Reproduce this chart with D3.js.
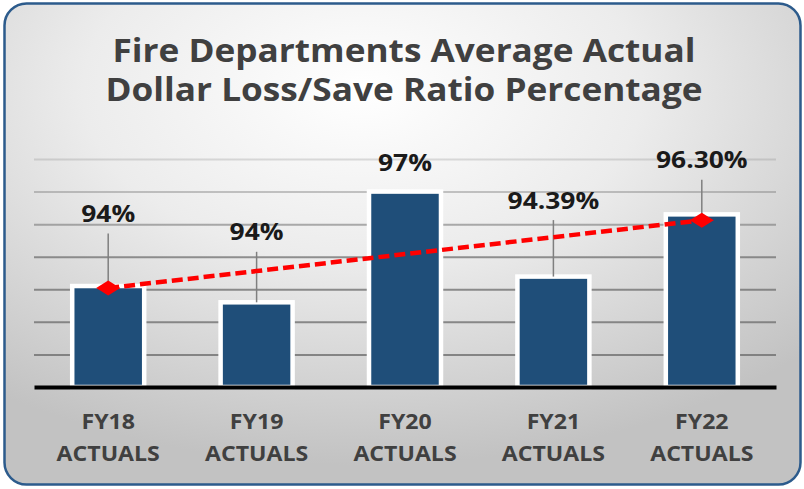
<!DOCTYPE html>
<html>
<head>
<meta charset="utf-8">
<title>Fire Departments Average Actual Dollar Loss/Save Ratio Percentage</title>
<script src="https://cdn.jsdelivr.net/npm/d3@7"></script>
<style>
  html, body { margin: 0; padding: 0; background: #fff; }
  svg { display: block; }
  svg text { font-family: "Open Sans", "Noto Sans", sans-serif; font-weight: 700; }
</style>
</head>
<body>
<script>
// data
var titleLines = ["Fire Departments Average Actual", "Dollar Loss/Save Ratio Percentage"];
var categories = ["FY18 ACTUALS", "FY19 ACTUALS", "FY20 ACTUALS", "FY21 ACTUALS", "FY22 ACTUALS"];
var values = [94.1, 93.6, 97.0, 94.39, 96.30];
var valueLabels = ["94%", "94%", "97%", "94.39%", "96.30%"];
var trendCategories = ["FY18 ACTUALS", "FY22 ACTUALS"];
var trendValues = [94.04, 96.12];
var gridTicks = [92, 93, 94, 95, 96, 97, 98];

// layout
var width = 804, height = 489,
    plotLeft = 34, plotRight = 776, plotTop = 159, plotBottom = 387;
// how far each value label sits above its bar (labels were dragged by hand)
var labelLift = [64, 62, 21, 68, 46];
// the source picture is a bit stretched sideways
var stretch = 1.1;

var x = d3.scaleBand().domain(categories).range([plotLeft, plotRight])
    .paddingInner(0.515).paddingOuter(0.2575);
var y = d3.scaleLinear().domain([91, 98]).range([plotBottom, plotTop]);
var cx = function(c) { return x(c) + x.bandwidth() / 2; };
// gridlines fade out towards the top
var gridFade = d3.scaleLinear().domain([92, 95, 96, 98]).range([0.8, 0.75, 0.55, 0.22]);

var svg = d3.select("body").append("svg")
    .attr("width", width).attr("height", height);

var defs = svg.append("defs");
var grad = defs.append("radialGradient").attr("id", "bg")
    .attr("cx", "45%").attr("cy", "18%").attr("r", "78%");
grad.append("stop").attr("offset", "0%").attr("stop-color", "#ffffff");
grad.append("stop").attr("offset", "45%").attr("stop-color", "#ececec");
grad.append("stop").attr("offset", "100%").attr("stop-color", "#c2c2c2");

svg.append("rect")
    .attr("x", 4.5).attr("y", 3.5)
    .attr("width", 796).attr("height", 481)
    .attr("rx", 22)
    .attr("fill", "url(#bg)")
    .attr("stroke", "#2c5b8c")
    .attr("stroke-width", 2.5);

// title
svg.append("g").selectAll("text")
    .data(titleLines)
  .enter().append("text")
    .attr("class", "stretch")
    .attr("x", 404)
    .attr("y", function(d, i) { return 62 + i * 39; })
    .attr("text-anchor", "middle")
    .attr("font-size", 32)
    .attr("fill", "#404040")
    .text(function(d) { return d; });

// gridlines
var grid = svg.append("g")
    .attr("transform", "translate(" + plotLeft + ",0)")
    .call(d3.axisLeft(y).tickValues(gridTicks).tickSize(-(plotRight - plotLeft)).tickFormat(""));
grid.select(".domain").remove();
grid.selectAll(".tick line")
    .attr("stroke", "#6f6f6f")
    .attr("stroke-opacity", function(d) { return gridFade(d); })
    .attr("stroke-width", 2);

// bars
svg.append("g").selectAll("rect")
    .data(values)
  .enter().append("rect")
    .attr("x", function(d, i) { return x(categories[i]); })
    .attr("y", function(d) { return y(d); })
    .attr("width", x.bandwidth())
    .attr("height", function(d) { return y(91) - y(d); })
    .attr("fill", "#1f4e79")
    .attr("stroke", "#ffffff")
    .attr("stroke-width", 4.5);

// category axis (the black base line)
var xAxis = svg.append("g")
    .attr("transform", "translate(0," + plotBottom + ")")
    .call(d3.axisBottom(x).tickSize(0).tickSizeOuter(0));
xAxis.select(".domain")
    .attr("stroke", "#000")
    .attr("stroke-width", 4);
xAxis.selectAll(".tick text").remove();
xAxis.selectAll(".tick").append("text")
    .attr("text-anchor", "middle")
    .attr("font-size", 21)
    .attr("fill", "#404040")
    .each(function(d) {
        var t = d3.select(this);
        d.split(" ").forEach(function(p, i) {
            t.append("tspan").attr("class", "stretch")
                .attr("x", 0).attr("y", 42 + i * 32).text(p);
        });
    });

// leader lines from value labels down to the bars
var leaders = d3.range(values.length).filter(function(i) { return labelLift[i] > 30; });
svg.append("g").selectAll("line")
    .data(leaders)
  .enter().append("line")
    .attr("x1", function(i) { return cx(categories[i]); })
    .attr("x2", function(i) { return cx(categories[i]); })
    .attr("y1", function(i) { return y(values[i]) - labelLift[i] + 11.5; })
    .attr("y2", function(i) { return y(values[i]); })
    .attr("stroke", "#7f7f7f")
    .attr("stroke-width", 1.5);

// linear trend
var trendLine = d3.line()
    .x(function(d, i) { return cx(trendCategories[i]); })
    .y(function(d) { return y(d); });
svg.append("path")
    .attr("d", trendLine(trendValues))
    .attr("fill", "none")
    .attr("stroke", "#ff0000")
    .attr("stroke-width", 4.5)
    .attr("stroke-dasharray", "11,5");

svg.append("g").selectAll("path")
    .data(trendValues)
  .enter().append("path")
    .attr("transform", function(d, i) {
        return "translate(" + cx(trendCategories[i]) + "," + y(d) + ")";
    })
    .attr("d", "M-12,0L0,-7.5L12,0L0,7.5Z")
    .attr("fill", "#ff0000");

// value labels
svg.append("g").selectAll("text")
    .data(valueLabels)
  .enter().append("text")
    .attr("class", "stretch")
    .attr("x", function(d, i) { return cx(categories[i]); })
    .attr("y", function(d, i) { return y(values[i]) - labelLift[i]; })
    .attr("text-anchor", "middle")
    .attr("font-size", 24)
    .attr("fill", "#1a1a1a")
    .text(function(d) { return d; });

// widen the texts a little, like the source
svg.selectAll(".stretch").each(function() {
    var w = this.getComputedTextLength();
    d3.select(this).attr("textLength", w * stretch).attr("lengthAdjust", "spacingAndGlyphs");
});
</script>
</body>
</html>
